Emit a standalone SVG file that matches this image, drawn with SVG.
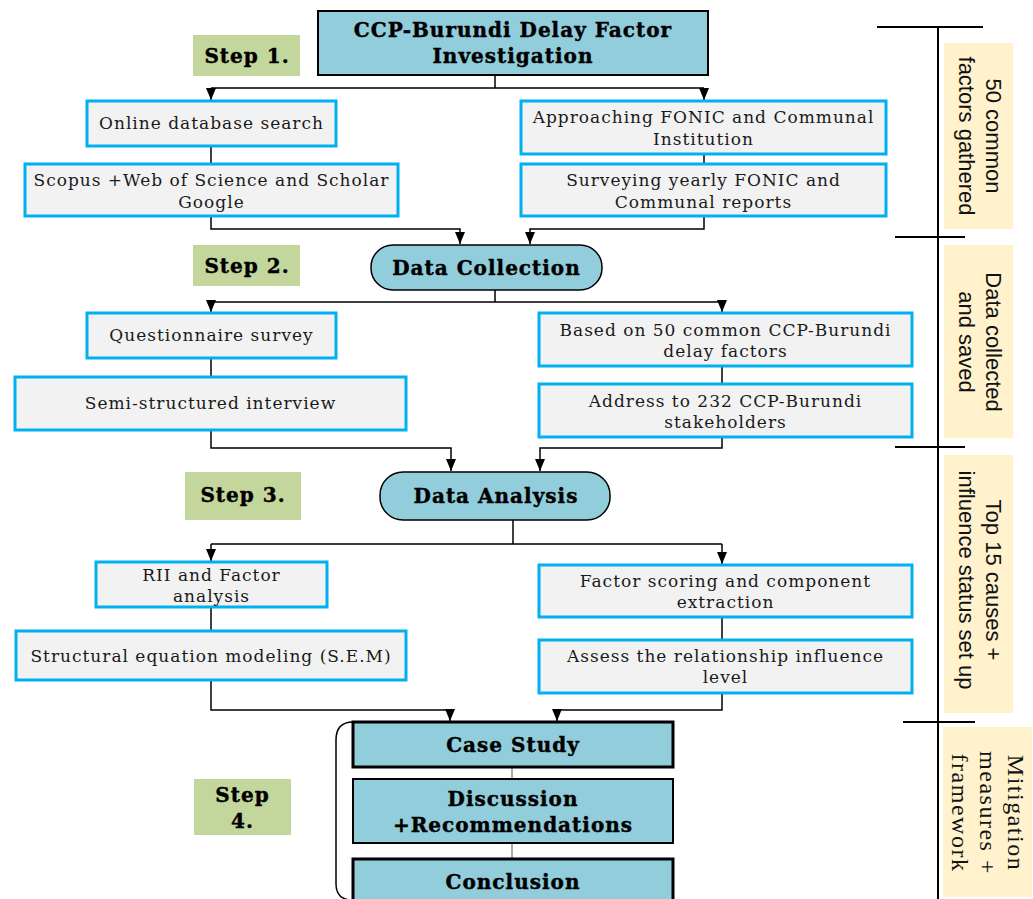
<svg xmlns="http://www.w3.org/2000/svg" width="1033" height="899" viewBox="0 0 1033 899">
  <style>
    .main { fill: #92CDDC; stroke: #000; stroke-width: 2; }
    .pill { fill: #92CDDC; stroke: #000; stroke-width: 1.5; }
    .stage { fill: #92CDDC; stroke: #000; stroke-width: 3; }
    .task { fill: #F2F2F2; stroke: #00B0F0; stroke-width: 3; }
    .step { fill: #C3D69B; }
    .note { fill: #FFF2CC; }
    .hd { font-family: "DejaVu Serif", serif; font-weight: bold; font-size: 20px; letter-spacing: 1px; fill: #000; stroke: #000; stroke-width: 0.4px; text-anchor: middle; }
    .tx { font-family: "DejaVu Serif", serif; font-size: 17px; letter-spacing: 1px; fill: #1a1a1a; text-anchor: middle; }
    .side { font-family: "Liberation Sans", Arial, sans-serif; font-size: 22px; fill: #111; text-anchor: middle; }
    .sideS { font-family: "Liberation Serif", "Times New Roman", serif; font-size: 24px; letter-spacing: 1.5px; fill: #111; text-anchor: middle; }
    .ln { fill: none; stroke: #000; stroke-width: 1.5; }
    .arr { fill: none; stroke: #000; stroke-width: 1.5; marker-end: url(#head); }
    .thin { fill: none; stroke: #555; stroke-width: 1; }
    .rule { fill: none; stroke: #000; stroke-width: 2; }
  </style>
  <defs>
    <marker id="head" markerUnits="userSpaceOnUse" markerWidth="13" markerHeight="10" refX="12" refY="5" orient="auto">
      <path d="M0,0 L12,5 L0,10 z" fill="#000"/>
    </marker>
  </defs>

  <rect width="1033" height="899" fill="#fff"/>

  <!-- connectors -->
  <g id="connectors">
    <path class="ln" d="M495 75 V88 M211 88 H704"/>
    <path class="arr" d="M211 88 V100"/>
    <path class="arr" d="M704 88 V100"/>
    <path class="ln" d="M211 146 V164 M704 154 V164"/>
    <path class="arr" d="M211 216 V229 H460 V244"/>
    <path class="arr" d="M704 216 V229 H530 V244"/>

    <path class="ln" d="M495 290 V302 M211 302 H722"/>
    <path class="arr" d="M211 302 V312"/>
    <path class="arr" d="M722 302 V312"/>
    <path class="ln" d="M211 358 V377 M722 366 V384"/>
    <path class="arr" d="M211 430 V448 H451 V471"/>
    <path class="arr" d="M722 437 V448 H540 V471"/>

    <path class="ln" d="M513 520 V544 M211 544 H722"/>
    <path class="arr" d="M211 544 V561"/>
    <path class="arr" d="M722 544 V564"/>
    <path class="ln" d="M211 607 V631 M722 617 V640"/>
    <path class="arr" d="M211 680 V710 H450 V721"/>
    <path class="arr" d="M722 693 V710 H557 V721"/>

    <path class="thin" d="M512 767 V779 M512 843 V859"/>
  </g>

  <!-- step 1 -->
  <g id="title">
    <rect class="main" x="318" y="11" width="390" height="64"/>
    <text class="hd" x="513" y="37">CCP-Burundi Delay Factor</text>
    <text class="hd" x="513" y="63">Investigation</text>
  </g>
  <g id="step1">
    <rect class="step" x="193" y="35" width="107" height="41"/>
    <text class="hd" x="247" y="63">Step 1.</text>
  </g>
  <g id="online-search">
    <rect class="task" x="87" y="101" width="249" height="45"/>
    <text class="tx" x="211.5" y="129">Online database search</text>
  </g>
  <g id="scopus">
    <rect class="task" x="25" y="164" width="373" height="52"/>
    <text class="tx" x="211.5" y="186">Scopus +Web of Science and Scholar</text>
    <text class="tx" x="211.5" y="208">Google</text>
  </g>
  <g id="approaching">
    <rect class="task" x="521" y="101" width="365" height="53"/>
    <text class="tx" x="703.5" y="123">Approaching FONIC and Communal</text>
    <text class="tx" x="703.5" y="145">Institution</text>
  </g>
  <g id="surveying">
    <rect class="task" x="521" y="164" width="365" height="52"/>
    <text class="tx" x="703.5" y="186">Surveying yearly FONIC and</text>
    <text class="tx" x="703.5" y="208">Communal reports</text>
  </g>

  <!-- step 2 -->
  <g id="data-collection">
    <rect class="pill" x="371" y="245" width="231" height="45" rx="22"/>
    <text class="hd" x="486.5" y="275">Data Collection</text>
  </g>
  <g id="step2">
    <rect class="step" x="193" y="245" width="107" height="41"/>
    <text class="hd" x="247" y="273">Step 2.</text>
  </g>
  <g id="questionnaire">
    <rect class="task" x="87" y="313" width="249" height="45"/>
    <text class="tx" x="211.5" y="341">Questionnaire survey</text>
  </g>
  <g id="interview">
    <rect class="task" x="15" y="377" width="391" height="53"/>
    <text class="tx" x="210.5" y="409">Semi-structured interview</text>
  </g>
  <g id="based-on">
    <rect class="task" x="539" y="313" width="373" height="53"/>
    <text class="tx" x="725.5" y="336">Based on 50 common CCP-Burundi</text>
    <text class="tx" x="725.5" y="357">delay factors</text>
  </g>
  <g id="address">
    <rect class="task" x="539" y="384" width="373" height="53"/>
    <text class="tx" x="725.5" y="407">Address to 232 CCP-Burundi</text>
    <text class="tx" x="725.5" y="428">stakeholders</text>
  </g>

  <!-- step 3 -->
  <g id="data-analysis">
    <rect class="pill" x="380" y="472" width="230" height="48" rx="23"/>
    <text class="hd" x="496" y="503">Data Analysis</text>
  </g>
  <g id="step3">
    <rect class="step" x="185" y="472" width="116" height="48"/>
    <text class="hd" x="243" y="502">Step 3.</text>
  </g>
  <g id="rii">
    <rect class="task" x="96" y="562" width="231" height="45"/>
    <text class="tx" x="211.5" y="581">RII and Factor</text>
    <text class="tx" x="211.5" y="602">analysis</text>
  </g>
  <g id="sem">
    <rect class="task" x="16" y="631" width="390" height="49"/>
    <text class="tx" x="211" y="662">Structural equation modeling (S.E.M)</text>
  </g>
  <g id="factor-scoring">
    <rect class="task" x="539" y="565" width="373" height="52"/>
    <text class="tx" x="725.5" y="587">Factor scoring and component</text>
    <text class="tx" x="725.5" y="608">extraction</text>
  </g>
  <g id="assess">
    <rect class="task" x="539" y="640" width="373" height="53"/>
    <text class="tx" x="725.5" y="662">Assess the relationship influence</text>
    <text class="tx" x="725.5" y="683">level</text>
  </g>

  <!-- step 4 -->
  <g id="step4">
    <rect class="step" x="194" y="779" width="97" height="56"/>
    <text class="hd" x="242.5" y="802">Step</text>
    <text class="hd" x="242.5" y="828">4.</text>
  </g>
  <path class="ln" d="M353 722 C341 722 336 728 336 740 V884 C336 894 341 899 350 900"/>
  <g id="case-study">
    <rect class="stage" x="353" y="722" width="320" height="45"/>
    <text class="hd" x="513" y="752">Case Study</text>
  </g>
  <g id="discussion">
    <rect class="stage" x="353" y="779" width="320" height="64" style="stroke-width:2"/>
    <text class="hd" x="513" y="806">Discussion</text>
    <text class="hd" x="513" y="832">+Recommendations</text>
  </g>
  <g id="conclusion">
    <rect class="stage" x="353" y="859" width="320" height="50"/>
    <text class="hd" x="513" y="889">Conclusion</text>
  </g>

  <!-- outcome timeline -->
  <g id="timeline">
    <path class="rule" d="M938 27 V899 M877 27 H983 M895 237 H965 M895 447 H965 M903 722 H975"/>
  </g>
  <g id="outcome1">
    <rect class="note" x="944" y="43" width="69" height="186"/>
    <text class="side" transform="translate(978 136) rotate(90)"><tspan x="0" y="-8">50 common</tspan><tspan x="0" y="19">factors gathered</tspan></text>
  </g>
  <g id="outcome2">
    <rect class="note" x="944" y="245" width="69" height="193"/>
    <text class="side" transform="translate(978 342) rotate(90)"><tspan x="0" y="-8">Data collected</tspan><tspan x="0" y="19">and saved</tspan></text>
  </g>
  <g id="outcome3">
    <rect class="note" x="944" y="455" width="69" height="258"/>
    <text class="side" transform="translate(978 580) rotate(90)"><tspan x="0" y="-8">Top 15 causes +</tspan><tspan x="0" y="19">influence status set up</tspan></text>
  </g>
  <g id="outcome4">
    <rect class="note" x="943" y="727" width="89" height="170"/>
    <text class="sideS" transform="translate(988 813) rotate(90)"><tspan x="0" y="-20">Mitigation</tspan><tspan x="0" y="8">measures +</tspan><tspan x="0" y="36">framework</tspan></text>
  </g>
</svg>
